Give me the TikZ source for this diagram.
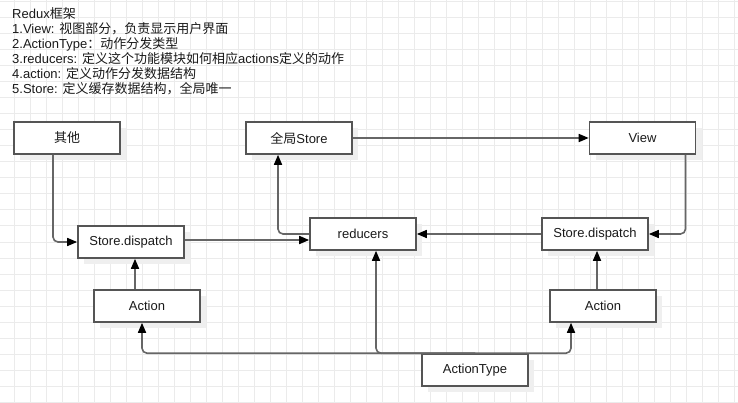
\documentclass[tikz,border=0pt]{standalone}
\usepackage{fontspec}
\setmainfont{Liberation Sans}
\newfontfamily\cjk{Noto Sans CJK SC}
\usetikzlibrary{arrows.meta,calc,shadows}
\definecolor{gridc}{HTML}{EBEBEB}
\definecolor{boxc}{HTML}{555555}
\definecolor{linec}{HTML}{666666}
\definecolor{shadc}{HTML}{EFEFEF}
\definecolor{txtc}{HTML}{1A1A1A}
\begin{document}
\begin{tikzpicture}[x=1pt,y=-1pt,
  gridline/.style={draw=gridc, line width=1pt},
  hdr/.style={anchor=base west, inner sep=0pt, text=txtc, font=\fontsize{13}{15}\selectfont},
  box/.style={draw=boxc, line width=1.6pt, fill=white, minimum width=106pt, minimum height=32pt,
    inner sep=0pt, text=txtc, font=\fontsize{13}{15}\selectfont,
    drop shadow={shadow xshift=6pt, shadow yshift=-6pt, fill=shadc, opacity=1}},
  conn/.style={draw=linec, line width=1.6pt, rounded corners=5pt,
    -{Triangle[length=10pt,width=8pt,color=black]}}]
\useasboundingbox (0,0) rectangle (738,403);
\fill[white] (0,0) rectangle (738,403);
\foreach \x in {14,30,...,734} \draw[gridline] (\x,0) -- (\x,403);
\foreach \y in {2,18,...,402} \draw[gridline] (0,\y) -- (738,\y);

\node[hdr] (h1) at (12,18.5) {Redux{\cjk 框架}};
\node[hdr] (h2) at (12,33.5) {1.View: {\cjk 视图部分，负责显示用户界面}};
\node[hdr] (h3) at (12,48.5) {2.ActionType{\cjk ：动作分发类型}};
\node[hdr] (h4) at (12,63.5) {3.reducers: {\cjk 定义这个功能模块如何相应}actions{\cjk 定义的动作}};
\node[hdr] (h5) at (12,78.5) {4.action: {\cjk 定义动作分发数据结构}};
\node[hdr] (h6) at (12,93.5) {5.Store: {\cjk 定义缓存数据结构，全局唯一}};

\node[box] (qita) at (67,138) {{\cjk 其他}};
\node[box] (gstore) at (299,138) {{\cjk 全局}Store};
\node[box] (view) at (642.5,138) {View};
\node[box] (sdL) at (131,242) {Store.dispatch};
\node[box] (red) at (363,234) {reducers};
\node[box] (sdR) at (595,234) {Store.dispatch};
\node[box] (actL) at (147,306) {Action};
\node[box] (actR) at (603,306) {Action};
\node[box] (at) at (475,370) {ActionType};

\draw[conn] ($(qita.south)+(-14,0)$) |- (sdL.west);
\draw[conn] ($(sdL.east)+(0,-2)$) -- ($(red.west)+(0,6)$);
\draw[conn] (red.west) -| ($(gstore.south)+(-21,0)$);
\draw[conn] (gstore.east) -- (view.west);
\draw[conn] ($(view.south)+(43,0)$) |- (sdR.east);
\draw[conn] (sdR.west) -- (red.east);
\draw[conn] ($(actL.north)+(-12,0)$) -- ($(sdL.south)+(4,0)$);
\draw[conn] ($(actR.north)+(-6,0)$) -- ($(sdR.south)+(2,0)$);
\draw[conn] (at.north) -| ($(actL.south)+(-5,0)$);
\draw[conn] (at.north) -| ($(actR.south)+(-32,0)$);
\draw[conn] (at.north) -| ($(red.south)+(13,0)$);
\end{tikzpicture}
\end{document}
